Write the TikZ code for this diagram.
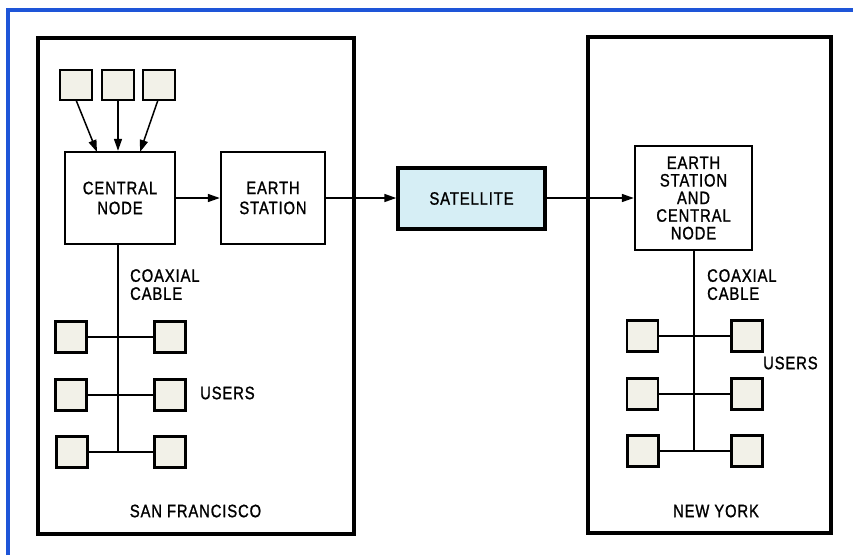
\documentclass[tikz,border=0pt]{standalone}
\usepackage{fontspec}
\setmainfont{Liberation Sans}[FakeBold=1.2,FakeStretch=0.82,LetterSpace=5]
\usetikzlibrary{arrows.meta}
\definecolor{frameblue}{HTML}{1E55D8}
\definecolor{satfill}{HTML}{D6EEF5}
\definecolor{boxfill}{HTML}{F2F1E8}
\begin{document}
\begin{tikzpicture}[x=1pt,y=-1pt,
  region/.style={draw,line width=3.2pt},
  blockbox/.style={draw,line width=2.4pt,fill=white,align=center,inner sep=0pt},
  userbox/.style={draw,line width=2.4pt,fill=boxfill,minimum width=31pt,minimum height=31pt,inner sep=0pt},
  lbl/.style={font=\fontsize{18}{18}\selectfont,align=left,inner sep=0pt},
  wire/.style={line width=1.6pt},
  flow/.style={line width=1.5pt,-{Triangle[length=12pt,width=8pt]}}]
\useasboundingbox (0,0) rectangle (853,555);
\fill[white] (0,0) rectangle (853,555);
% blue frame
\draw[frameblue,line width=4pt] (8,555) -- (8,10) -- (853,10);
% regions
\draw[region] (38,38) rectangle (354,534);
\draw[region] (588,37) rectangle (831,533);
% top terminals
\node[userbox,minimum height=30pt,minimum width=32pt] (t1) at (76,85) {};
\node[userbox,minimum height=30pt,minimum width=32pt] (t2) at (118,85) {};
\node[userbox,minimum height=30pt,minimum width=32pt] (t3) at (159,85) {};
% blocks
\node[blockbox,minimum width=110pt,minimum height=92pt,font=\fontsize{18}{20}\selectfont] (cn) at (120,198) {CENTRAL\\NODE};
\node[blockbox,minimum width=104pt,minimum height=92pt,font=\fontsize{18}{20}\selectfont] (es) at (273,198) {EARTH\\STATION};
\node[blockbox,line width=3.4pt,fill=satfill,minimum width=147pt,minimum height=61pt,font=\fontsize{18}{20}\selectfont] (sat) at (471.5,198.5) {SATELLITE};
\node[blockbox,minimum width=117pt,minimum height=104pt,font=\fontsize{18}{17.6}\selectfont] (escn) at (693.5,198) {EARTH\\STATION\\AND\\CENTRAL\\NODE};
% arrows
\coordinate (a1) at (97,152);
\coordinate (a3) at (140,152);
\draw[flow] (76,100) -- (a1);
\draw[flow] (t2.south) -- (t2.south |- cn.north);
\draw[flow] (158,100) -- (a3);
\draw[flow] (cn.east |- 0,198) -- (es.west |- 0,198);
\draw[flow] (es.east |- 0,198) -- (sat.west |- 0,198);
\draw[flow] (sat.east |- 0,198) -- (escn.west |- 0,198);
% San Francisco LAN
\coordinate (lb) at (118,452);
\draw[wire] (cn.south -| 118,0) -- (lb);
\node[userbox] (u1) at (71,337) {};
\node[userbox] (u2) at (170,337) {};
\node[userbox] (u3) at (71,395) {};
\node[userbox] (u4) at (170,395) {};
\node[userbox] (u5) at (72,452) {};
\node[userbox] (u6) at (170,452) {};
\draw[wire] (u1) -- (u2);
\draw[wire] (u3) -- (u4);
\draw[wire] (u5) -- (u6);
\node[lbl,anchor=north west,font=\fontsize{18}{18}\selectfont] (cc1) at (130,269) {COAXIAL\\CABLE};
\node[lbl,anchor=west] (us1) at (200,393) {USERS};
\node[lbl] (sf) at (195.5,511) {SAN FRANCISCO};
% New York LAN
\coordinate (rb) at (694,451);
\draw[wire] (escn.south -| 694,0) -- (rb);
\node[userbox] (v1) at (642.5,336) {};
\node[userbox] (v2) at (747,336) {};
\node[userbox] (v3) at (642.5,394) {};
\node[userbox] (v4) at (747,394) {};
\node[userbox] (v5) at (643,451) {};
\node[userbox] (v6) at (747,451) {};
\draw[wire] (v1) -- (v2);
\draw[wire] (v3) -- (v4);
\draw[wire] (v5) -- (v6);
\node[lbl,anchor=north west] (cc2) at (707,269) {COAXIAL\\CABLE};
\node[lbl,anchor=west] (us2) at (763,363) {USERS};
\node[lbl] (ny) at (716,511) {NEW YORK};
\end{tikzpicture}
\end{document}
